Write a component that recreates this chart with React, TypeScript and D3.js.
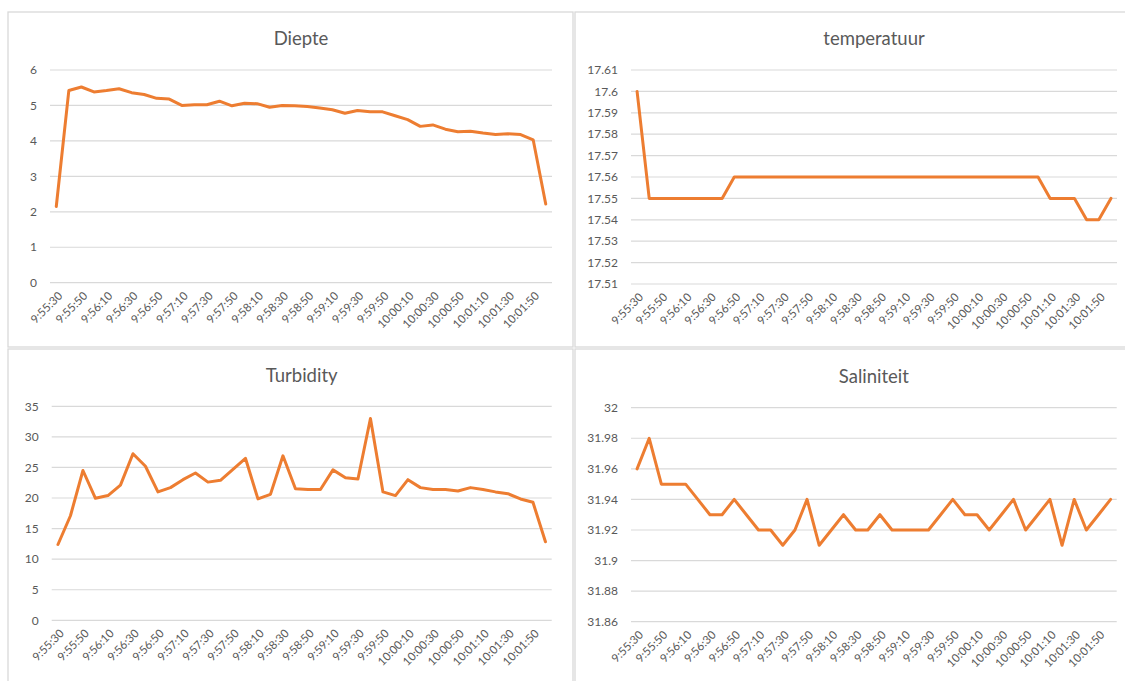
import React from "react";
import * as d3 from "d3";

// 10 s samples, 9:55:30 .. 10:02:00
const times = [
  "9:55:30", "9:55:40", "9:55:50", "9:56:00", "9:56:10", "9:56:20", "9:56:30", "9:56:40",
  "9:56:50", "9:57:00", "9:57:10", "9:57:20", "9:57:30", "9:57:40", "9:57:50", "9:58:00",
  "9:58:10", "9:58:20", "9:58:30", "9:58:40", "9:58:50", "9:59:00", "9:59:10", "9:59:20",
  "9:59:30", "9:59:40", "9:59:50", "10:00:00", "10:00:10", "10:00:20", "10:00:30", "10:00:40",
  "10:00:50", "10:01:00", "10:01:10", "10:01:20", "10:01:30", "10:01:40", "10:01:50", "10:02:00",
];

const diepte = [
  2.15, 5.42, 5.52, 5.38, 5.42, 5.47, 5.36, 5.31, 5.2, 5.18,
  5.0, 5.02, 5.02, 5.12, 4.99, 5.06, 5.05, 4.95, 5.0, 4.99,
  4.97, 4.93, 4.88, 4.78, 4.86, 4.82, 4.82, 4.71, 4.6, 4.41,
  4.45, 4.33, 4.26, 4.27, 4.22, 4.18, 4.2, 4.18, 4.03, 2.22,
];

const temperatuur = [
  17.6, 17.55, 17.55, 17.55, 17.55, 17.55, 17.55, 17.55, 17.56, 17.56,
  17.56, 17.56, 17.56, 17.56, 17.56, 17.56, 17.56, 17.56, 17.56, 17.56,
  17.56, 17.56, 17.56, 17.56, 17.56, 17.56, 17.56, 17.56, 17.56, 17.56,
  17.56, 17.56, 17.56, 17.56, 17.55, 17.55, 17.55, 17.54, 17.54, 17.55,
];

const turbidity = [
  12.4, 17.1, 24.5, 19.95, 20.4, 22.1, 27.25, 25.2, 21.0, 21.7,
  23.0, 24.1, 22.6, 22.9, 24.7, 26.5, 19.85, 20.6, 26.9, 21.5,
  21.4, 21.4, 24.6, 23.3, 23.1, 33.0, 21.0, 20.4, 23.0, 21.7,
  21.4, 21.4, 21.15, 21.7, 21.4, 21.0, 20.7, 19.85, 19.3, 12.85,
];

const saliniteit = [
  31.96, 31.98, 31.95, 31.95, 31.95, 31.94, 31.93, 31.93, 31.94, 31.93,
  31.92, 31.92, 31.91, 31.92, 31.94, 31.91, 31.92, 31.93, 31.92, 31.92,
  31.93, 31.92, 31.92, 31.92, 31.92, 31.93, 31.94, 31.93, 31.93, 31.92,
  31.93, 31.94, 31.92, 31.93, 31.94, 31.91, 31.94, 31.92, 31.93, 31.94,
];

const diepteTicks = [0, 1, 2, 3, 4, 5, 6];
const tempTicks = [17.51, 17.52, 17.53, 17.54, 17.55, 17.56, 17.57, 17.58, 17.59, 17.6, 17.61];
const turbTicks = [0, 5, 10, 15, 20, 25, 30, 35];
const salTicks = [31.86, 31.88, 31.9, 31.92, 31.94, 31.96, 31.98, 32];

const FONT = "Lato, 'Open Sans', sans-serif";
const GREY = "#595959";
const ORANGE = "#ED7D31";

type PanelProps = {
  title: string;
  values: number[];
  ticks: number[];
  box: [number, number, number, number];
  plot: { x0: number; x1: number; yTop: number; yBottom: number };
  titleY: number;
};

function Panel({ title, values, ticks, box, plot, titleY }: PanelProps) {
  const x = d3.scaleBand<string>().domain(times).range([plot.x0, plot.x1]).padding(0);
  const y = d3
    .scaleLinear()
    .domain([ticks[0], ticks[ticks.length - 1]])
    .range([plot.yBottom, plot.yTop]);
  const cx = (t: string) => (x(t) ?? 0) + x.bandwidth() / 2;
  const line = d3
    .line<number>()
    .x((_, i) => cx(times[i]))
    .y((d) => y(d));
  const [bx, by, bw, bh] = box;
  return (
    <g>
      <rect x={bx} y={by} width={bw} height={bh} fill="#fff" stroke="#d9d9d9" strokeWidth={1.3} />
      <text x={(plot.x0 + plot.x1) / 2} y={titleY} textAnchor="middle" fontFamily={FONT} fontSize={18.5} fill={GREY}>
        {title}
      </text>
      {ticks.map((t) => (
        <g key={t}>
          <line x1={plot.x0} x2={plot.x1} y1={y(t)} y2={y(t)} stroke="#d9d9d9" strokeWidth={1.2} />
          <text x={plot.x0 - 13} y={y(t)} dy="0.35em" textAnchor="end" fontFamily={FONT} fontSize={12} fill={GREY}>
            {String(+t.toFixed(2))}
          </text>
        </g>
      ))}
      {times
        .filter((_, i) => i % 2 === 0)
        .map((t) => (
          <text
            key={t}
            transform={`translate(${cx(t) + 4},${plot.yBottom + 11}) rotate(-45)`}
            textAnchor="end"
            dy="0.35em"
            fontFamily={FONT}
            fontSize={11.5}
            fill={GREY}
          >
            {t}
          </text>
        ))}
      <path d={line(values) ?? ""} fill="none" stroke={ORANGE} strokeWidth={3} strokeLinejoin="round" strokeLinecap="round" />
    </g>
  );
}

export default function App() {
  return (
    <svg width={1125} height={681} style={{ position: "absolute", left: 0, top: 0, background: "#fff" }}>
      <Panel
        title="Diepte"
        values={diepte}
        ticks={diepteTicks}
        box={[8, 12, 565, 335]}
        plot={{ x0: 50, x1: 552, yTop: 70, yBottom: 282.7 }}
        titleY={45}
      />
      <Panel
        title="temperatuur"
        values={temperatuur}
        ticks={tempTicks}
        box={[575, 12, 552, 335]}
        plot={{ x0: 631, x1: 1117, yTop: 70, yBottom: 284 }}
        titleY={45}
      />
      <Panel
        title="Turbidity"
        values={turbidity}
        ticks={turbTicks}
        box={[8, 349, 565, 334]}
        plot={{ x0: 51.7, x1: 551.7, yTop: 406.3, yBottom: 620.3 }}
        titleY={382}
      />
      <Panel
        title="Saliniteit"
        values={saliniteit}
        ticks={salTicks}
        box={[575, 349, 552, 334]}
        plot={{ x0: 631, x1: 1116.7, yTop: 407.7, yBottom: 621.7 }}
        titleY={383}
      />
    </svg>
  );
}
